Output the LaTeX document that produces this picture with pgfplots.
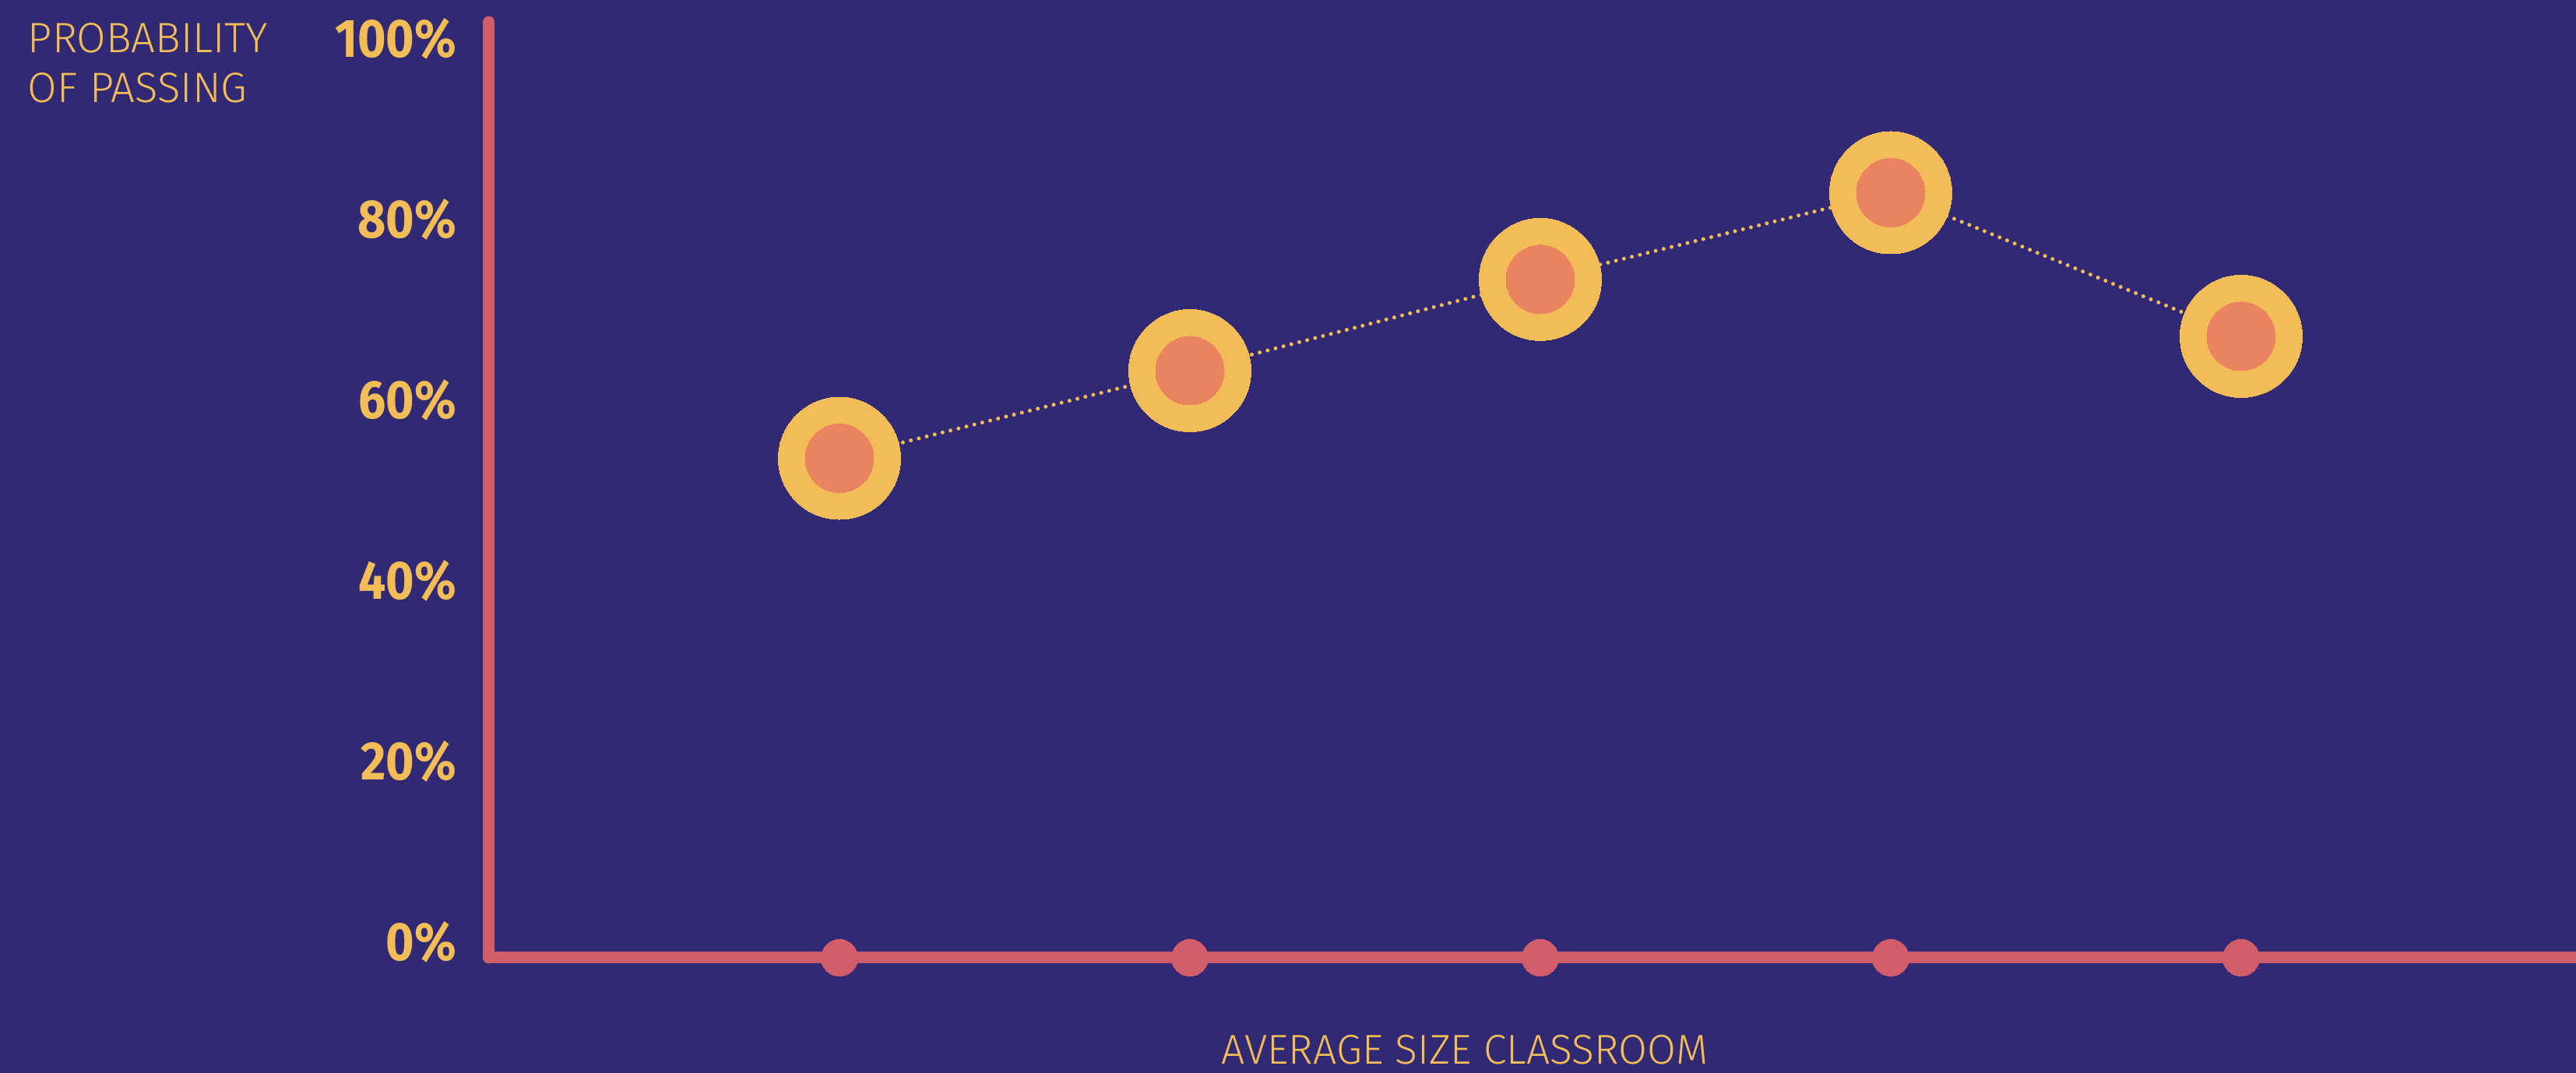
\documentclass[border=0pt]{standalone}
\usepackage{pgfplots}
\usepackage{pgfplotstable}
\pgfplotsset{compat=1.18}
\usepackage{fontspec}
\setmainfont{Fira Sans}
\newfontfamily\lightfont{Fira Sans Light}
\newfontfamily\tickfont{Fira Sans}[FakeStretch=0.9]

\definecolor{bg}{RGB}{50,41,116}
\definecolor{gold}{RGB}{242,188,86}
\definecolor{coral}{RGB}{234,131,95}
\definecolor{axisred}{RGB}{210,93,106}

% probability of passing by classroom-size group
\pgfplotstableread{
x  p
1  55.3
2  65.0
3  75.1
4  84.7
5  68.8
}\passdata

\begin{document}
\begin{tikzpicture}
\useasboundingbox (0,0) rectangle (661.6pt,275.6pt);
\fill[bg] (0,0) rectangle (661.6pt,275.6pt);
\clip (0,0) rectangle (661.6pt,275.6pt);
\begin{axis}[
  at={(125.6pt,29.6pt)}, anchor=south west,
  x=90pt, y=2.32pt,
  xmin=0, xmax=5.96, ymin=0, ymax=103.6,
  clip=false,
  axis x line=bottom, axis y line=left,
  axis line style={draw=axisred, line width=3pt, -},
  y axis line style={line cap=round},
  xtick=\empty,
  ytick={0,20,40,60,80,100},
  yticklabels={0\%,20\%,40\%,60\%,80\%,100\%},
  major tick length=0pt,
  yticklabel style={anchor=east, inner sep=0pt, xshift=-8.2pt, yshift=4pt,
    text=gold, font=\tickfont\bfseries\fontsize{13.9pt}{15pt}\selectfont},
]
% category marks on the baseline
\addplot[axisred, only marks, mark=*, mark size=4.7pt,
  mark options={solid, line width=0pt, draw=axisred, fill=axisred}]
  coordinates {(1,0) (2,0) (3,0) (4,0) (5,0)};
% dotted connector
\addplot[gold, no marks, line width=1pt, dash pattern=on 0pt off 2.1pt, line cap=round]
  table[x=x, y=p] {\passdata};
% outer rings
\addplot[gold, only marks, mark=*, mark size=15.7pt,
  mark options={solid, line width=0pt, draw=gold, fill=gold}]
  table[x=x, y=p] {\passdata};
% inner dots
\addplot[coral, only marks, mark=*, mark size=8.8pt,
  mark options={solid, line width=0pt, draw=coral, fill=coral}]
  table[x=x, y=p] {\passdata};
\end{axis}

\node[anchor=base west, inner sep=0pt, text=gold,
  font=\lightfont\fontsize{10.9pt}{12pt}\selectfont] at (7pt,262pt) {PROBABILITY};
\node[anchor=base west, inner sep=0pt, text=gold,
  font=\lightfont\fontsize{10.9pt}{12pt}\selectfont] at (7pt,249.2pt) {OF PASSING};
\node[anchor=base, inner sep=0pt, text=gold,
  font=\lightfont\fontsize{10.7pt}{12pt}\selectfont] at (376.2pt,2.2pt) {AVERAGE SIZE CLASSROOM};
\end{tikzpicture}
\end{document}
